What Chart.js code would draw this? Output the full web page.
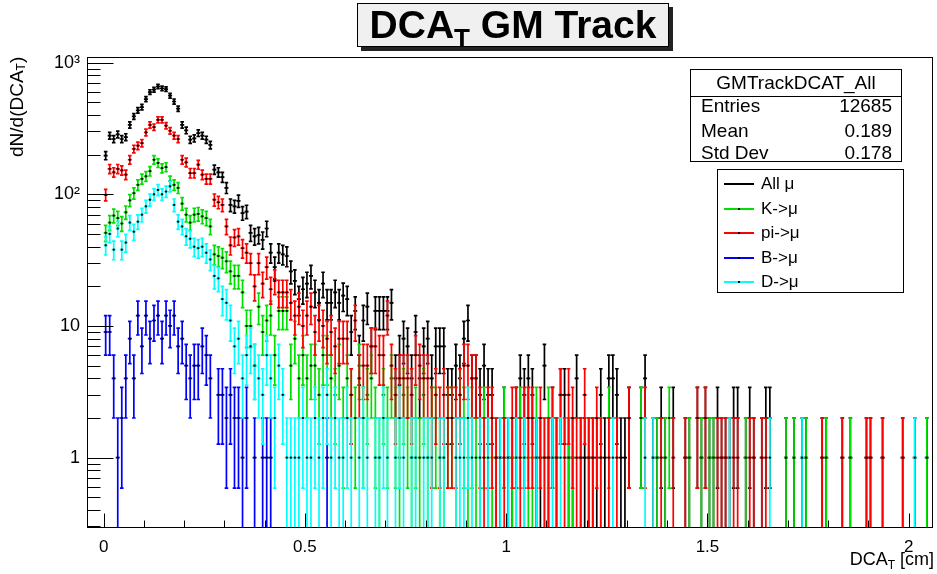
<!DOCTYPE html>
<html>
<head>
<meta charset="utf-8">
<title>DCA_T GM Track</title>
<script src="https://cdn.jsdelivr.net/npm/chart.js@4.4.1/dist/chart.umd.min.js"></script>
<style>
  body { margin: 0; background: #fff; }
  #frame { position: relative; width: 937px; height: 574px; font-family: "Liberation Sans", Arial, sans-serif; color: #000; }
  #chart { position: absolute; left: 0; top: 0; }
  #title { position: absolute; left: 357px; top: 3px; width: 312px; height: 44px; box-sizing: border-box;
           background: #f0f0f0; border: 1px solid #000; box-shadow: 4px 4px 0 #222;
           text-align: center; font-weight: bold; font-size: 39px; line-height: 42px; white-space: nowrap; }
  #title sub { font-size: 26px; vertical-align: -9px; line-height: 0; }
  #stats { position: absolute; left: 690px; top: 69px; width: 212px; height: 93px; box-sizing: border-box;
           background: #fff; border: 1px solid #000; font-size: 19px; }
  #stats .head { position: absolute; left: 0; right: 0; top: 0; height: 26px; border-bottom: 1px solid #000; text-align: center; line-height: 26px; }
  #stats .lbl, #stats .val { position: absolute; line-height: 22px; }
  #stats .lbl { left: 10px; }
  #stats .val { right: 9px; }
  #legend { position: absolute; left: 717px; top: 169px; width: 187px; height: 124px; box-sizing: border-box;
            background: #fff; border: 1px solid #000; font-size: 17px; }
  #legend .txt { position: absolute; left: 43px; height: 22px; line-height: 22px; white-space: nowrap; }
  #legend .sample { position: absolute; left: 6px; width: 30px; height: 2px; }
  #legend .dot { position: absolute; left: 20px; width: 2px; height: 2px; background: #000; }
  #ytitle { position: absolute; left: 6px; top: 57px; height: 140px; writing-mode: vertical-rl; transform: rotate(180deg);
            text-align: end; font-size: 19px; white-space: nowrap; }
  #ytitle sub, #xtitle sub { font-size: 12px; vertical-align: -4px; line-height: 0; }
  #xtitle { position: absolute; right: 3px; top: 549px; font-size: 18px; white-space: nowrap; }
</style>
</head>
<body>
<div id="frame">
  <canvas id="chart" width="937" height="574"></canvas>
  <div id="title">DCA<sub>T</sub> GM Track</div>
  <div id="stats"></div>
  <div id="legend"></div>
  <div id="ytitle">dN/d(DCA<sub>T</sub>)</div>
  <div id="xtitle">DCA<sub>T</sub> [cm]</div>
</div>
<script>
// counts per 0.01 cm bin, bin 0 = [0, 0.01)
const binWidth = 0.01;
const firstCenter = 0.005;

const allMu = [
  197, 279, 263, 285, 263, 272, 337, 391, 434, 460,
  529, 598, 623, 660, 637, 630, 561, 507, 447, 337,
  306, 260, 266, 292, 279, 260, 237, 154, 147, 135,
  112, 83, 81, 89, 72, 74, 51, 48, 49, 45,
  55, 36, 28, 36, 35, 34, 26, 22, 16, 19,
  21, 24, 18, 15, 21, 15, 15, 18, 15, 17,
  16, 9, 13, 6, 11, 14, 7, 13, 13, 13,
  13, 15, 4, 6, 8, 7, 4, 9, 4, 7,
  8, 4, 7, 7, 7, 3, 3, 5, 4, 8,
  11, 4, 4, 3, 5, 3, 3, 1, 1, 2,
  1, 1, 2, 4, 3, 4, 3, 1, 1, 5,
  1, 2, 1, 3, 3, 1, 1, 4, 1, 1,
  1, 1, 1, 3, 1, 4, 4, 3, 1, 1,
  2, 0, 0, 2, 4, 0, 1, 1, 2, 1,
  0, 2, 0, 0, 1, 1, 0, 2, 1, 2,
  1, 1, 2, 1, 1, 1, 2, 2, 0, 1,
  2, 1, 0, 1, 2, 2, 0, 0, 0, 1,
  0, 1, 0, 1, 1, 0, 0, 0, 1, 1,
  0, 0, 0, 1, 0, 1, 0, 0, 0, 1,
  1, 0, 0, 1, 0, 0, 0, 0, 1, 0,
  0, 1, 0, 0, 1, 0
];

const kMu = [
  51, 61, 69, 66, 60, 73, 90, 102, 118, 131,
  137, 150, 183, 173, 158, 161, 126, 118, 112, 85,
  70, 61, 70, 71, 68, 66, 57, 35, 34, 33,
  31, 26, 24, 24, 18, 10, 10, 5, 14, 9,
  11, 12, 6, 13, 13, 13, 5, 8, 4, 6,
  4, 5, 5, 3, 6, 6, 4, 3, 5, 2,
  4, 3, 2, 5, 2, 3, 4, 2, 1, 3,
  2, 4, 2, 1, 3, 2, 1, 2, 1, 3,
  1, 2, 2, 1, 1, 2, 2, 1, 3, 2,
  1, 2, 1, 1, 2, 1, 1, 1, 0, 2,
  0, 1, 1, 2, 1, 1, 1, 2, 0, 1,
  2, 0, 1, 0, 0, 1, 1, 0, 0, 0,
  1, 0, 0, 1, 0, 2, 0, 0, 0, 0,
  0, 0, 0, 2, 0, 0, 0, 1, 0, 1,
  2, 0, 0, 0, 0, 1, 0, 0, 1, 0,
  1, 1, 0, 0, 0, 0, 0, 0, 0, 1,
  0, 0, 0, 0, 0, 0, 0, 0, 0, 1,
  0, 1, 0, 0, 1, 0, 0, 0, 0, 1,
  0, 0, 0, 0, 0, 1, 0, 0, 0, 0,
  0, 0, 0, 0, 0, 0, 0, 0, 0, 0,
  0, 0, 0, 0, 1, 0
];

const piMu = [
  99, 156, 147, 156, 152, 141, 183, 221, 234, 245,
  295, 337, 324, 368, 368, 332, 304, 279, 263, 183,
  175, 145, 145, 168, 141, 131, 131, 91, 87, 83,
  57, 41, 47, 48, 39, 36, 30, 20, 30, 21,
  28, 19, 22, 18, 18, 18, 15, 12, 14, 10,
  12, 14, 9, 11, 10, 8, 9, 7, 8, 8,
  8, 3, 11, 4, 5, 5, 7, 7, 6, 6,
  12, 5, 3, 4, 4, 4, 3, 6, 5, 4,
  4, 2, 3, 2, 3, 2, 2, 2, 3, 5,
  5, 4, 4, 2, 1, 2, 2, 1, 1, 1,
  1, 2, 2, 1, 2, 2, 2, 1, 2, 1,
  1, 2, 1, 3, 1, 3, 2, 1, 1, 3,
  1, 1, 2, 1, 0, 1, 0, 1, 0, 0,
  2, 0, 0, 0, 2, 0, 0, 0, 1, 0,
  0, 1, 0, 0, 1, 0, 0, 2, 0, 2,
  0, 0, 1, 1, 1, 0, 1, 1, 0, 0,
  1, 1, 0, 1, 1, 0, 0, 0, 0, 0,
  0, 0, 0, 0, 0, 0, 0, 0, 1, 0,
  0, 0, 0, 1, 0, 0, 0, 0, 0, 1,
  1, 0, 0, 1, 0, 0, 0, 0, 1, 0,
  0, 0, 0, 0, 0, 0
];

const bMu = [
  9, 9, 4, 1, 2, 4, 8, 4, 12, 7,
  12, 8, 11, 12, 8, 12, 10, 12, 7, 8,
  5, 4, 5, 5, 7, 6, 4, 0, 3, 3,
  2, 3, 2, 2, 1, 2, 0, 1, 0, 1,
  1, 1, 0, 0, 0, 0, 0, 0, 0, 0,
  0, 0, 0, 0, 0, 1
];

const dMu = [
  41, 50, 38, 55, 38, 43, 61, 52, 62, 70,
  81, 91, 100, 108, 100, 105, 115, 83, 62, 57,
  48, 46, 40, 39, 40, 36, 32, 24, 23, 16,
  15, 11, 7, 8, 4, 6, 7, 5, 4, 3,
  6, 4, 2, 5, 3, 1, 1, 1, 1, 2,
  1, 1, 2, 1, 2, 3, 1, 2, 1, 1,
  2, 1, 0, 1, 2, 1, 0, 1, 1, 2,
  1, 0, 1, 2, 1, 0, 1, 1, 0, 1,
  1, 1, 0, 1, 1, 0, 0, 1, 1, 1,
  2, 1, 0, 1, 0, 1, 0, 0, 1, 0,
  1, 0, 1, 0, 1, 0, 0, 1, 0, 0,
  0, 1, 0, 1, 0, 0, 0, 0, 0, 0,
  0, 0, 0, 0, 0, 0, 1, 0, 0, 0,
  0, 0, 0, 0, 1, 0, 1, 0, 0, 0,
  0, 0, 0, 0, 0, 0, 0, 0, 0, 0,
  0, 0, 0, 0, 0, 1, 0, 0, 0, 0,
  0, 0, 0, 0, 0, 1, 0, 0, 0, 0,
  0, 0, 0, 1, 0, 0, 0, 0, 0, 0,
  0, 0, 0, 0, 0, 0, 0, 0, 0, 0,
  0, 0, 0, 0, 0, 0, 0, 0, 0, 0,
  0, 1, 0, 0, 0, 0
];

const seriesNames = ['All \u03bc', 'K->\u03bc', 'pi->\u03bc', 'B->\u03bc', 'D->\u03bc'];
const seriesColors = ['#000000', '#00e000', '#ff0000', '#0000ff', '#00ffff'];
const seriesCounts = [allMu, kMu, piMu, bMu, dMu];

const xTicks = [0, 0.5, 1, 1.5, 2];
const xTickLabels = ['0', '0.5', '1', '1.5', '2'];
const yTicks = [1, 10, 100, 1000];
const yTickLabels = ['1', '10', '10\u00b2', '10\u00b3'];

const statsTitle = 'GMTrackDCAT_All';
const statsLabels = ['Entries', 'Mean', 'Std Dev'];
const statsValues = ['12685', '0.189', '0.178'];

const xMin = -0.0414, xMax = 2.0603;
const yMin = 0.292, yMax = 1104;

const toPoints = counts => counts
  .map((n, i) => ({ x: firstCenter + i * binWidth, y: n }))
  .filter(p => p.y > 0);

// vertical + horizontal error bars, drawn right before each histogram's markers
const errorBars = {
  id: 'errorBars',
  beforeDatasetDraw(chart, args) {
    const { ctx, chartArea: a, scales: { x, y } } = chart;
    const ds = chart.data.datasets[args.index];
    const cap = 1.8;
    ctx.save();
    ctx.beginPath();
    ctx.rect(a.left, a.top, a.right - a.left, a.bottom - a.top);
    ctx.clip();
    ctx.strokeStyle = ds.borderColor;
    ctx.lineWidth = 1.7;
    ctx.beginPath();
    ds.data.forEach(p => {
      const cx = x.getPixelForValue(p.x);
      const cy = y.getPixelForValue(p.y);
      const e = Math.sqrt(p.y);
      const hi = y.getPixelForValue(p.y + e);
      const lowOk = p.y - e > 0;
      const lo = lowOk ? y.getPixelForValue(p.y - e) : a.bottom + 2;
      ctx.moveTo(cx, hi); ctx.lineTo(cx, lo);
      ctx.moveTo(cx - cap, hi); ctx.lineTo(cx + cap, hi);
      if (lowOk) { ctx.moveTo(cx - cap, lo); ctx.lineTo(cx + cap, lo); }
      ctx.moveTo(x.getPixelForValue(p.x - binWidth / 2), cy);
      ctx.lineTo(x.getPixelForValue(p.x + binWidth / 2), cy);
    });
    ctx.stroke();
    ctx.restore();
  }
};

// ROOT-like frame with inside ticks
const frameTicks = {
  id: 'frameTicks',
  afterDatasetsDraw(chart) {
    const { ctx, chartArea: a, scales: { x, y } } = chart;
    ctx.save();
    ctx.strokeStyle = '#000';
    ctx.lineWidth = 1;
    const L = Math.round(a.left) + 0.5, R = Math.round(a.right) - 0.5;
    const T = Math.round(a.top) + 0.5, B = Math.round(a.bottom) - 0.5;
    ctx.strokeRect(L, T, R - L, B - T);
    ctx.beginPath();
    [0.1, 1, 10, 100, 1000].forEach(d => {
      for (let m = 1; m <= 9; m++) {
        const v = m * d;
        if (v < yMin || v > yMax) continue;
        const py = Math.round(y.getPixelForValue(v)) + 0.5;
        ctx.moveTo(L, py); ctx.lineTo(L + (m === 1 ? 26 : 13), py);
      }
    });
    for (let i = 0; i <= 20; i++) {
      const px = Math.round(x.getPixelForValue(i / 10)) + 0.5;
      ctx.moveTo(px, B); ctx.lineTo(px, B - (i % 5 === 0 ? 14 : 7));
    }
    ctx.stroke();
    ctx.restore();
  }
};

const datasets = seriesCounts.map((counts, i) => ({
  label: seriesNames[i],
  data: toPoints(counts),
  borderColor: seriesColors[i],
  backgroundColor: '#000',
  pointStyle: 'rect',
  pointRadius: 1.4,
  pointBorderWidth: 0,
  showLine: false,
  order: seriesCounts.length - i
}));

new Chart(document.getElementById('chart'), {
  type: 'scatter',
  data: { datasets },
  plugins: [errorBars, frameTicks],
  options: {
    responsive: false,
    animation: false,
    layout: { padding: { top: 57, right: 3, left: 0, bottom: 0 } },
    plugins: { legend: { display: false }, tooltip: { enabled: false } },
    scales: {
      x: {
        type: 'linear',
        min: xMin,
        max: xMax,
        afterBuildTicks: s => { s.ticks = xTicks.map(v => ({ value: v })); },
        afterFit: s => { s.height = 46; },
        grid: { display: false, drawTicks: false },
        border: { display: false },
        ticks: {
          padding: 9,
          maxRotation: 0,
          color: '#000',
          font: { family: 'Liberation Sans', size: 17 },
          callback: (v) => xTickLabels[xTicks.indexOf(v)]
        }
      },
      y: {
        type: 'logarithmic',
        min: yMin,
        max: yMax,
        afterBuildTicks: s => { s.ticks = yTicks.map(v => ({ value: v })); },
        afterFit: s => { s.width = 87; },
        grid: { display: false, drawTicks: false },
        border: { display: false },
        ticks: {
          padding: 7,
          color: '#000',
          font: { family: 'Liberation Sans', size: 18 },
          callback: (v) => yTickLabels[yTicks.indexOf(v)]
        }
      }
    }
  }
});

// stats box
const stats = document.getElementById('stats');
const head = document.createElement('div');
head.className = 'head';
head.textContent = statsTitle;
stats.appendChild(head);
const rowTops = [25, 50, 72];
statsLabels.forEach((lbl, i) => {
  const l = document.createElement('div');
  l.className = 'lbl';
  l.style.top = rowTops[i] + 'px';
  l.textContent = lbl;
  const v = document.createElement('div');
  v.className = 'val';
  v.style.top = rowTops[i] + 'px';
  v.textContent = statsValues[i];
  stats.appendChild(l);
  stats.appendChild(v);
});

// legend box
const legend = document.getElementById('legend');
seriesNames.forEach((name, i) => {
  const rowTop = 3 + i * 24.5;
  const line = document.createElement('div');
  line.className = 'sample';
  line.style.top = (rowTop + 10) + 'px';
  line.style.backgroundColor = seriesColors[i];
  const dot = document.createElement('div');
  dot.className = 'dot';
  dot.style.top = (rowTop + 10) + 'px';
  const txt = document.createElement('div');
  txt.className = 'txt';
  txt.style.top = rowTop + 'px';
  txt.textContent = name;
  legend.appendChild(line);
  legend.appendChild(dot);
  legend.appendChild(txt);
});
</script>
</body>
</html>
